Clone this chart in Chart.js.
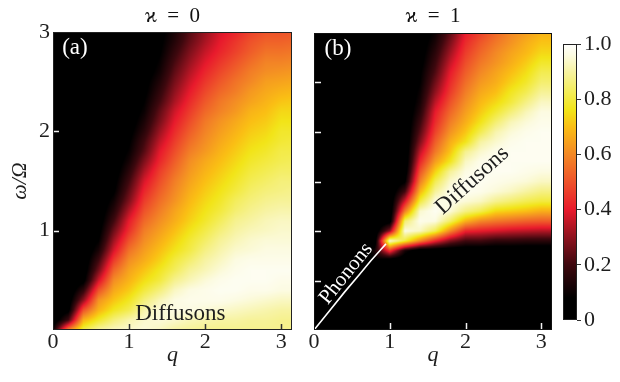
<!DOCTYPE html>
<html>
<head>
<meta charset="utf-8">
<script src="https://cdn.jsdelivr.net/npm/chart.js@4.4.1/dist/chart.umd.min.js"></script>
<style>
  html, body { margin: 0; padding: 0; background: #fff; }
  #wrap { position: relative; width: 620px; height: 382px; overflow: hidden; }
  canvas { position: absolute; top: 0; }
  #panelA { left: 0; }
  #panelB { left: 300px; }
  #cbar { left: 555px; }
</style>
</head>
<body>
<div id="wrap">
  <canvas id="panelA" width="300" height="382"></canvas>
  <canvas id="panelB" width="260" height="382"></canvas>
  <canvas id="cbar" width="65" height="382"></canvas>
</div>
<script>
// grid nodes (q columns, omega rows)
const qCols = [0, 0.2, 0.4, 0.6, 0.8, 1.0, 1.2, 1.4, 1.6, 1.8, 2.0, 2.2, 2.4, 2.6, 2.8, 3.0, 3.2];
const omegaRows = [0, 0.1, 0.2, 0.3, 0.4, 0.5, 0.6, 0.7, 0.8, 0.9, 1.0, 1.1, 1.2, 1.3, 1.4, 1.5,
  1.6, 1.7, 1.8, 1.9, 2.0, 2.1, 2.2, 2.3, 2.4, 2.5, 2.6, 2.7, 2.8, 2.9, 3.0];

// intensity in %, one row per q column, values from omega = 0 up to 3  (kappa = 0)
const intensityA = [
  [10,0,0,0,0,0,0,0,0,0,0,0,0,0,0,0,0,0,0,0,0,0,0,0,0,0,0,0,0,0,0],
  [60,20,5,2,0,0,0,0,0,0,0,0,0,0,0,0,0,0,0,0,0,0,0,0,0,0,0,0,0,0,0],
  [82,68,50,30,17,5,2,1,0,0,0,0,0,0,0,0,0,0,0,0,0,0,0,0,0,0,0,0,0,0,0],
  [90,78,68,62,50,37,27,20,13,8,5,3,2,1,0,0,0,0,0,0,0,0,0,0,0,0,0,0,0,0,0],
  [93,86,77,71,66,61,54,46,38,32,26,20,15,11,7,5,3,2,1,0,0,0,0,0,0,0,0,0,0,0,0],
  [94,91,82,77,72,68,65,61,56,50,44,40,34,28,24,20,16,12,9,7,5,3,2,1,0,0,0,0,0,0,0],
  [95,94,91,86,80,75,71,67,64,61,58,54,50,46,42,38,33,28,23,20,16,13,10,8,6,5,3,2,2,1,1],
  [93,95,95,92,86,80,77,73,70,67,64,61,58,55,52,49,46,42,39,35,31,27,24,20,17,14,11,9,7,6,5],
  [90,94,96,96,93,88,83,80,76,73,70,67,65,62,60,58,55,52,49,46,43,40,37,33,30,27,24,21,18,15,13],
  [89,92,96,97,96,92,89,85,81,79,76,73,71,69,67,65,63,61,58,55,52,49,46,43,40,37,34,31,28,25,23],
  [88,91,95,97,97,95,92,90,87,84,81,78,76,74,72,70,68,66,63,61,59,57,54,51,48,45,42,39,36,33,31],
  [88,90,94,97,98,97,95,93,91,89,86,83,80,78,76,74,72,70,68,66,64,62,59,57,54,51,48,45,42,40,38],
  [88,90,93,96,98,98,97,96,94,92,90,88,85,83,80,78,76,74,72,70,68,66,63,61,58,56,53,50,47,45,42],
  [88,89,92,95,97,98,98,97,95,94,92,90,88,86,84,82,80,78,76,74,72,70,68,65,63,60,58,55,52,50,47],
  [88,89,91,94,97,98,98,97,96,95,93,92,90,88,86,84,82,80,78,76,74,72,70,68,66,64,61,59,56,53,50],
  [88,88,90,93,96,97,98,97,96,95,94,93,91,89,87,86,84,82,81,79,78,76,74,71,68,65,62,59,56,53,50],
  [87,88,90,93,96,97,98,97,96,95,94,93,91,89,88,86,84,83,81,80,78,76,74,72,69,66,63,60,57,54,51]
];

// kappa = 1
const intensityB = [
  [0,0,0,0,0,0,0,0,0,0,0,0,0,0,0,0,0,0,0,0,0,0,0,0,0,0,0,0,0,0,0],
  [0,0,0,0,0,0,0,0,0,0,0,0,0,0,0,0,0,0,0,0,0,0,0,0,0,0,0,0,0,0,0],
  [0,0,0,0,0,0,0,0,0,0,0,0,0,0,0,0,0,0,0,0,0,0,0,0,0,0,0,0,0,0,0],
  [0,0,0,0,0,0,0,0,0,0,0,0,0,0,0,0,0,0,0,0,0,0,0,0,0,0,0,0,0,0,0],
  [0,0,0,0,0,0,0,8,12,0,0,0,0,0,0,0,0,0,0,0,0,0,0,0,0,0,0,0,0,0,0],
  [0,0,0,0,0,0,0,0,45,95,30,3,0,0,0,0,0,0,0,0,0,0,0,0,0,0,0,0,0,0,0],
  [0,0,0,0,0,0,0,0,12,80,96,85,58,38,20,7,2,0,0,0,0,0,0,0,0,0,0,0,0,0,0],
  [0,0,0,0,0,0,0,0,0,60,93,97,94,80,68,58,50,42,35,28,23,19,15,12,10,8,7,5,4,3,2],
  [0,0,0,0,0,0,0,0,0,42,82,96,98,96,89,82,73,64,57,52,47,43,40,35,30,26,22,19,16,13,10],
  [0,0,0,0,0,0,0,0,0,28,60,84,95,97,97,94,89,77,71,67,62,58,54,50,46,43,40,36,32,28,24],
  [0,0,0,0,0,0,0,0,0,20,42,68,87,95,98,98,96,93,88,76,71,67,64,61,58,55,52,49,46,43,40],
  [0,0,0,0,0,0,0,0,0,20,40,60,82,93,97,98,98,97,94,90,82,76,72,69,66,63,60,57,54,51,47],
  [0,0,0,0,0,0,0,0,0,17,38,57,74,88,95,97,98,98,97,94,91,85,79,74,70,67,65,62,60,57,54],
  [0,0,0,0,0,0,0,0,0,17,36,55,72,85,93,96,98,98,98,97,95,92,86,80,77,73,70,67,65,62,60],
  [0,0,0,0,0,0,0,0,0,16,35,53,70,82,90,95,97,98,98,98,97,95,92,87,82,78,75,72,69,67,64],
  [0,0,0,0,0,0,0,0,0,16,34,52,67,80,87,93,96,98,98,98,98,97,96,93,89,85,82,78,74,71,68],
  [0,0,0,0,0,0,0,0,0,16,34,52,67,80,87,93,96,98,98,98,98,97,96,93,89,85,82,78,74,71,68]
];

// phonon branch (kappa = 1)
const phononQ = [0, 0.2, 0.4, 0.6, 0.75, 0.88, 0.95];
const phononW = [0, 0.19, 0.38, 0.56, 0.7, 0.81, 0.87];

// ticks
const qTicks = [0, 1, 2, 3];
const omegaLabelTicks = [1, 2, 3];
const omegaMarksA = [1, 2];
const omegaMarksB = [0.5, 1, 1.5, 2, 2.5];
const qMarks = [1, 2, 3];
const cbarTicks = [0, 0.2, 0.4, 0.6, 0.8, 1.0];

const serif = "'Liberation Serif', 'Times New Roman', 'DejaVu Serif', serif";
const ink = '#1e1e1e';

// colormap black -> red -> yellow -> white
const hotStops = [
  [0, [0, 0, 0]], [0.08, [0, 0, 0]], [0.2, [62, 8, 14]], [0.3, [142, 18, 30]],
  [0.4, [232, 26, 44]], [0.5, [238, 82, 42]], [0.6, [243, 136, 37]], [0.7, [250, 190, 20]],
  [0.76, [242, 228, 24]], [0.82, [243, 236, 82]], [0.9, [247, 243, 162]], [0.96, [252, 251, 226]],
  [1, [255, 255, 255]]
];

function hotColor(v) {
  v = Math.max(0, Math.min(1, v));
  for (let k = 1; k < hotStops.length; k++) {
    if (v <= hotStops[k][0]) {
      const [a, ca] = hotStops[k - 1];
      const [b, cb] = hotStops[k];
      const t = (v - a) / (b - a);
      return ca.map((c, n) => Math.round(c + (cb[n] - c) * t));
    }
  }
  return hotStops[hotStops.length - 1][1];
}

function cells(grid) {
  const pts = [];
  qCols.forEach((q, i) => {
    omegaRows.forEach((w, j) => pts.push({ x: q, y: w, v: grid[i][j] / 100 }));
  });
  return pts;
}

// shades the plot area from the cell values, each pixel placed through the scales
const heatmapPlugin = {
  id: 'heatmap',
  beforeDatasetsDraw(chart) {
    const ds = chart.data.datasets[0];
    if (!ds || !ds.heat) return;
    const xs = chart.scales.x, ys = chart.scales.y, a = chart.chartArea;
    const nq = qCols.length, nw = omegaRows.length;
    const vals = ds.data.map(p => p.v);
    const dq = qCols[1] - qCols[0], dw = omegaRows[1] - omegaRows[0];
    const left = Math.round(a.left), top = Math.round(a.top);
    const w = Math.round(a.right) - left, h = Math.round(a.bottom) - top;
    const off = document.createElement('canvas');
    off.width = w; off.height = h;
    const octx = off.getContext('2d');
    const img = octx.createImageData(w, h);
    for (let py = 0; py < h; py++) {
      let fj = (ys.getValueForPixel(top + py + 0.5) - omegaRows[0]) / dw;
      fj = Math.max(0, Math.min(nw - 1.0001, fj));
      const j = Math.floor(fj), tj = fj - j;
      for (let px = 0; px < w; px++) {
        let fi = (xs.getValueForPixel(left + px + 0.5) - qCols[0]) / dq;
        fi = Math.max(0, Math.min(nq - 1.0001, fi));
        const i = Math.floor(fi), ti = fi - i;
        const v00 = vals[i * nw + j], v01 = vals[i * nw + j + 1];
        const v10 = vals[(i + 1) * nw + j], v11 = vals[(i + 1) * nw + j + 1];
        const v = (v00 * (1 - tj) + v01 * tj) * (1 - ti) + (v10 * (1 - tj) + v11 * tj) * ti;
        const c = hotColor(v);
        const o = (py * w + px) * 4;
        img.data[o] = c[0]; img.data[o + 1] = c[1]; img.data[o + 2] = c[2]; img.data[o + 3] = 255;
      }
    }
    octx.putImageData(img, 0, 0);
    chart.ctx.drawImage(off, left, top);
  }
};

// inward tick marks + box round the plot
function framePlugin(cfg) {
  return {
    id: 'frame',
    afterDatasetsDraw(chart) {
      const { ctx, chartArea: a } = chart;
      const xs = chart.scales.x, ys = chart.scales.y;
      ctx.save();
      ctx.lineWidth = 1.5;
      ctx.strokeStyle = cfg.xColor;
      cfg.xMarks.forEach(v => {
        const px = Math.round(xs.getPixelForValue(v)) + 0.5;
        ctx.beginPath(); ctx.moveTo(px, a.bottom); ctx.lineTo(px, a.bottom - cfg.len); ctx.stroke();
      });
      ctx.strokeStyle = cfg.yColor;
      cfg.yMarks.forEach(v => {
        const py = Math.round(ys.getPixelForValue(v)) + 0.5;
        ctx.beginPath(); ctx.moveTo(a.left, py); ctx.lineTo(a.left + cfg.len, py); ctx.stroke();
      });
      ctx.lineWidth = 1;
      ctx.strokeStyle = cfg.border;
      ctx.strokeRect(a.left + 0.5, a.top + 0.5, a.right - a.left - 1, a.bottom - a.top - 1);
      ctx.restore();
    }
  };
}

function notesPlugin(items) {
  return {
    id: 'notes',
    afterDatasetsDraw(chart) {
      const xs = chart.scales.x, ys = chart.scales.y, ctx = chart.ctx;
      items.forEach(n => {
        ctx.save();
        ctx.translate(xs.getPixelForValue(n.q), ys.getPixelForValue(n.w));
        ctx.rotate(-n.angle * Math.PI / 180);
        ctx.font = n.font;
        ctx.fillStyle = n.color;
        ctx.textAlign = 'left';
        ctx.textBaseline = 'alphabetic';
        ctx.fillText(n.text, 0, 0);
        ctx.restore();
      });
    }
  };
}

function panelOptions(title, showLabels, yWidth, topHeight) {
  return {
    responsive: false,
    animation: false,
    events: [],
    layout: { padding: { left: 0, right: 8, top: 0, bottom: 0 } },
    plugins: { legend: { display: false }, tooltip: { enabled: false } },
    scales: {
      x: {
        type: 'linear', position: 'bottom', min: 0, max: Math.PI,
        afterBuildTicks: s => { s.ticks = qTicks.map(v => ({ value: v })); },
        ticks: { font: { family: serif, size: 22 }, color: ink, padding: -1, maxRotation: 0, autoSkip: false },
        grid: { display: false, drawTicks: false },
        border: { display: false },
        title: { display: true, text: 'q', color: ink,
          font: { family: serif, size: 22, style: 'italic' }, padding: { top: 0, bottom: 14 } },
        afterFit: s => { s.height = 52; }
      },
      xTop: {
        type: 'linear', position: 'top', min: 0, max: Math.PI,
        ticks: { display: false },
        grid: { display: false, drawTicks: false },
        border: { display: false },
        title: { display: true, text: title, color: '#111',
          font: { family: serif, size: 21 }, padding: { top: 4, bottom: 0 } },
        afterFit: s => { s.height = topHeight; }
      },
      y: {
        type: 'linear', position: 'left', min: 0, max: 3,
        afterBuildTicks: s => { s.ticks = omegaLabelTicks.map(v => ({ value: v })); },
        ticks: { display: showLabels, font: { family: serif, size: 22 }, color: ink, padding: 3 },
        grid: { display: false, drawTicks: false },
        border: { display: false },
        title: { display: showLabels, text: 'ω/Ω', color: ink,
          font: { family: serif, size: 22, style: 'italic' }, padding: { top: 7, bottom: 0 } },
        afterFit: s => { s.width = yWidth; }
      }
    }
  };
}

// (a) kappa = 0
new Chart(document.getElementById('panelA').getContext('2d'), {
  type: 'scatter',
  data: {
    datasets: [{ label: 'intensity', heat: true, data: cells(intensityA), pointRadius: 0 }]
  },
  options: panelOptions('ϰ\u2002=\u20020', true, 53, 32),
  plugins: [heatmapPlugin,
    framePlugin({ xMarks: qMarks, xColor: '#333', yMarks: omegaMarksA, yColor: '#f2f2f2', len: 6, border: '#222' }),
    notesPlugin([
      { text: 'Diffusons', q: 1.08, w: 0.1, angle: 0, color: ink, font: `23px ${serif}` },
      { text: '(a)', q: 0.12, w: 2.78, angle: 0, color: '#fff', font: `23px ${serif}` }
    ])]
});

// (b) kappa = 1
new Chart(document.getElementById('panelB').getContext('2d'), {
  type: 'scatter',
  data: {
    datasets: [
      { label: 'intensity', heat: true, data: cells(intensityB), pointRadius: 0 },
      { label: 'phonons', data: phononQ.map((q, i) => ({ x: q, y: phononW[i] })),
        showLine: true, borderColor: '#ffffff', borderWidth: 1.6, pointRadius: 0, tension: 0 }
    ]
  },
  options: panelOptions('ϰ\u2002=\u20021', false, 14, 33),
  plugins: [heatmapPlugin,
    framePlugin({ xMarks: qMarks, xColor: '#f2f2f2', yMarks: omegaMarksB, yColor: '#f2f2f2', len: 7, border: '#111' }),
    notesPlugin([
      { text: '(b)', q: 0.14, w: 2.78, angle: 0, color: '#fff', font: `23px ${serif}` },
      { text: 'Phonons', q: 0.18, w: 0.25, angle: 51, color: '#fff', font: `21px ${serif}` },
      { text: 'Diffusons', q: 1.7, w: 1.16, angle: 42, color: ink, font: `23px ${serif}` }
    ])]
});

// colour bar
const colorbarPlugin = {
  id: 'colorbar',
  beforeDatasetsDraw(chart) {
    const { ctx, chartArea: a } = chart;
    const ys = chart.scales.y;
    const g = ctx.createLinearGradient(0, ys.getPixelForValue(0), 0, ys.getPixelForValue(1));
    hotStops.forEach(([v, c]) => g.addColorStop(v, `rgb(${c[0]},${c[1]},${c[2]})`));
    ctx.save();
    ctx.fillStyle = g;
    ctx.fillRect(a.left, a.top, a.right - a.left, a.bottom - a.top);
    ctx.lineWidth = 1;
    ctx.strokeStyle = '#222';
    ctx.strokeRect(a.left + 0.5, a.top + 0.5, a.right - a.left - 1, a.bottom - a.top - 1);
    ctx.restore();
  }
};

new Chart(document.getElementById('cbar').getContext('2d'), {
  type: 'scatter',
  data: { datasets: [] },
  options: {
    responsive: false,
    animation: false,
    events: [],
    layout: { padding: { left: 8, right: 0, top: 44, bottom: 62 } },
    plugins: { legend: { display: false }, tooltip: { enabled: false } },
    scales: {
      x: { type: 'linear', display: false, min: 0, max: 1 },
      y: {
        type: 'linear', position: 'right', min: 0, max: 1,
        afterBuildTicks: s => { s.ticks = cbarTicks.map(v => ({ value: v })); },
        ticks: { font: { family: serif, size: 22 }, color: ink, padding: 3,
          callback: v => (v === 0 ? '0' : v.toFixed(1)) },
        grid: { drawOnChartArea: false, drawTicks: true, tickLength: 4, color: '#333' },
        border: { display: false },
        afterFit: s => { s.width = 43; }
      }
    }
  },
  plugins: [colorbarPlugin]
});
</script>
</body>
</html>
